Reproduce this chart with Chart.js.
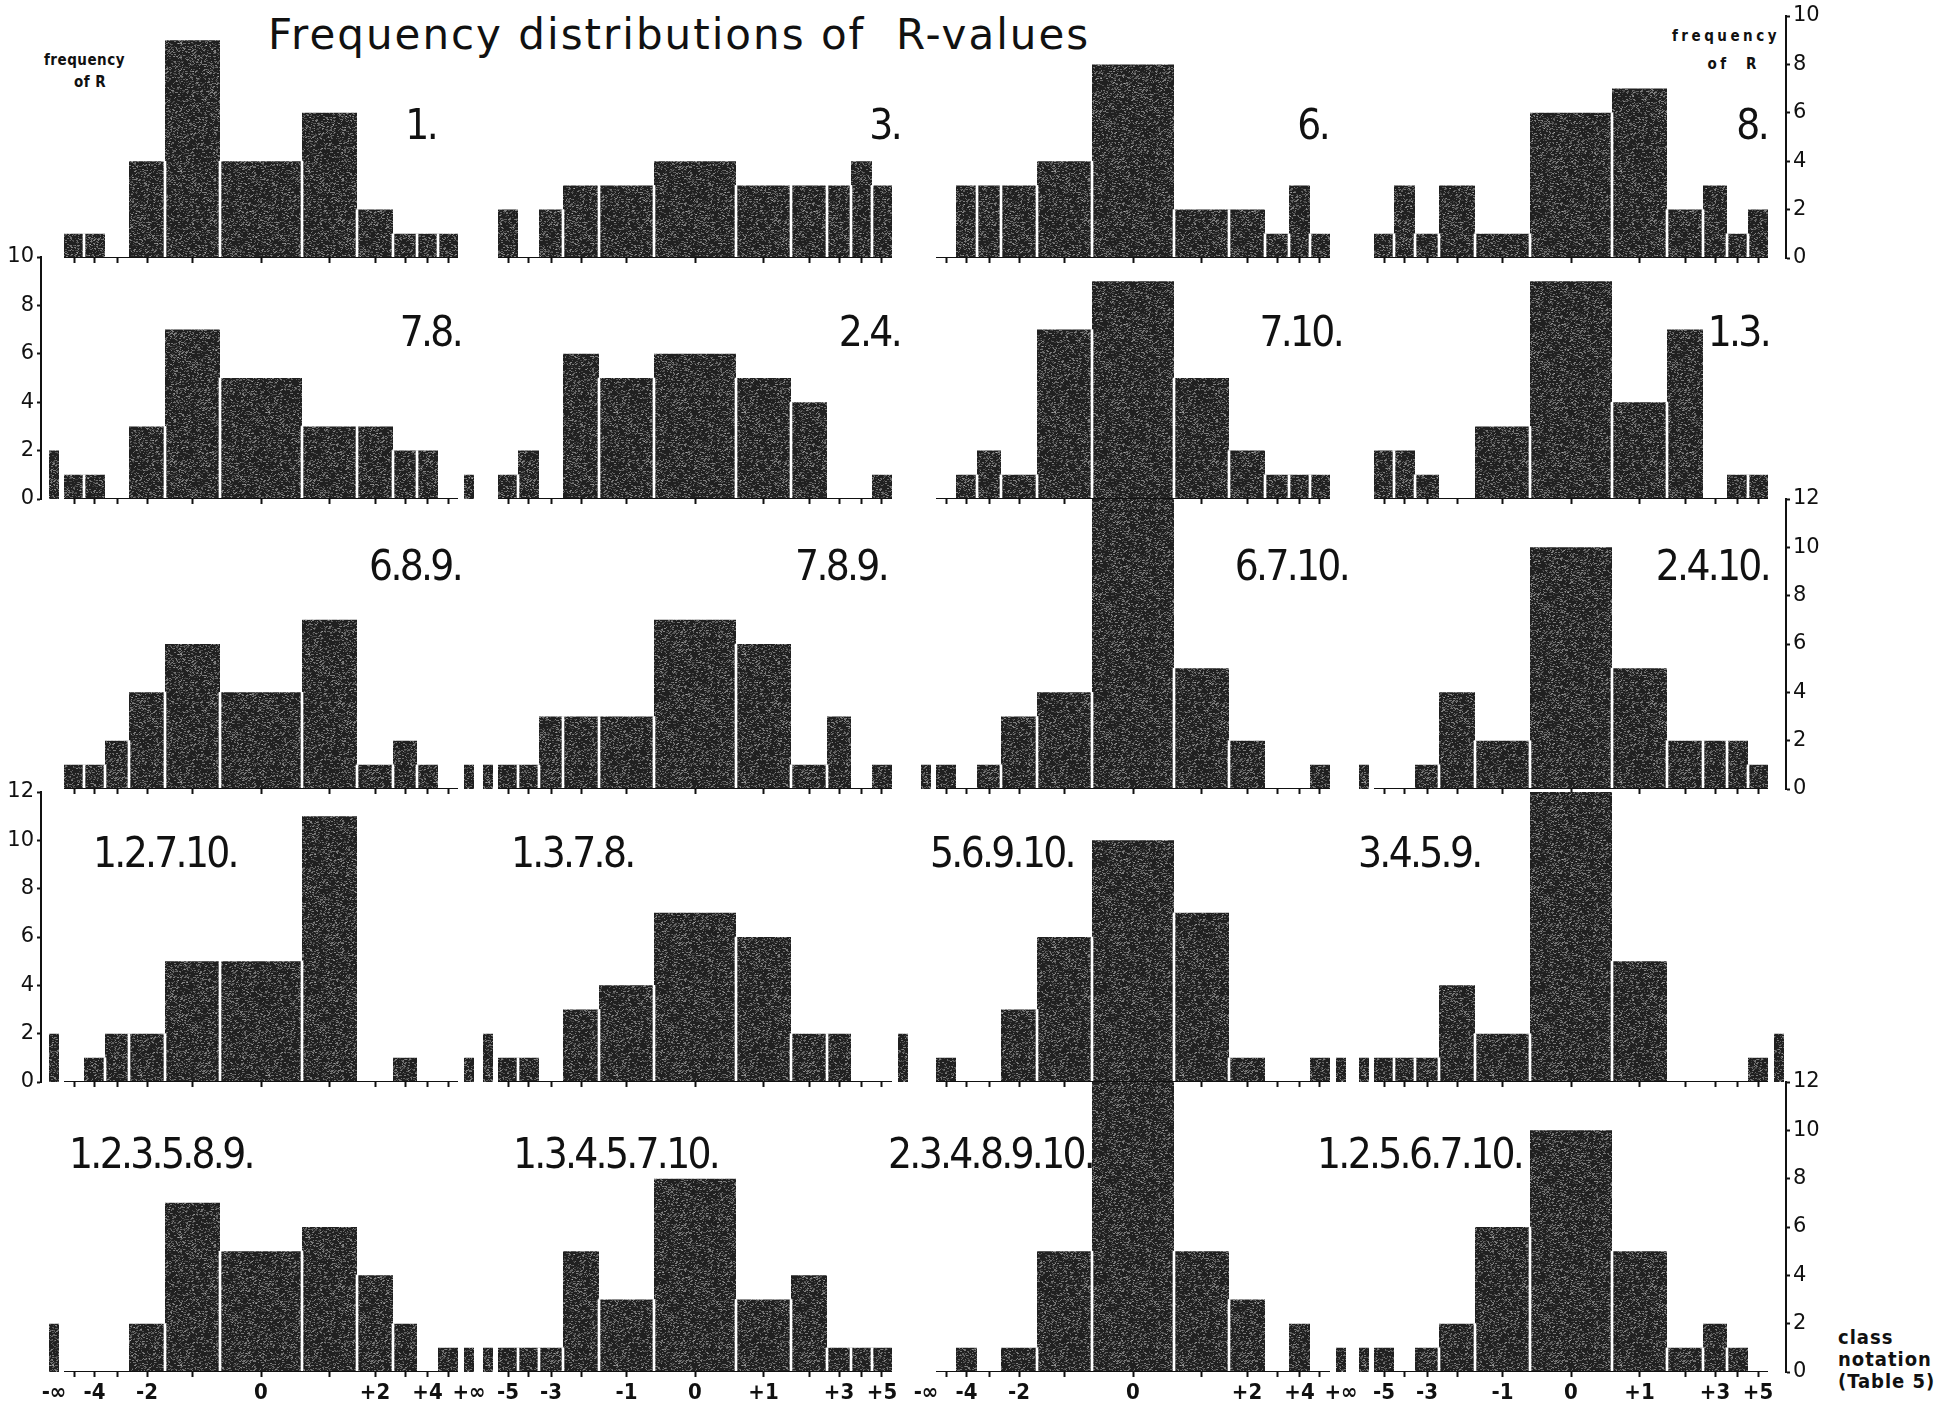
<!DOCTYPE html>
<html>
<head>
<meta charset="utf-8">
<title>Frequency distributions of R-values</title>
<script src="https://cdn.jsdelivr.net/npm/chart.js@4.4.1/dist/chart.umd.min.js"></script>
<style>
    html, body { margin: 0; padding: 0; background: #fff; }
    body { position: relative; width: 1954px; height: 1403px; overflow: hidden; color: #111;
           font-family: 'DejaVu Sans Condensed', 'DejaVu Sans', sans-serif; }
    canvas { position: absolute; }
    .txt { position: absolute; white-space: nowrap; }
    #title { left: 268px; top: 10px; font-family: 'DejaVu Sans', sans-serif; font-size: 42px; letter-spacing: 2px; }
    .panel { font-size: 42px; line-height: 42px; letter-spacing: -2.7px; }
    .small { font-weight: bold; font-size: 15px; line-height: 17px; letter-spacing: 0.5px; }
    .wide { letter-spacing: 3.5px; }
    .note { font-weight: bold; font-size: 20px; line-height: 22px; letter-spacing: 1px; }
</style>
</head>
<body>
<div id="title" class="txt">Frequency distributions of&nbsp; R-values</div>
<div class="txt small" style="left:44px; top:52px;">frequency</div>
<div class="txt small" style="left:74px; top:74px;">of R</div>
<div class="txt small wide" style="right:174px; top:28px;">frequency</div>
<div class="txt small wide" style="right:194px; top:56px;">of&nbsp;&nbsp;R</div>
<div class="txt note" style="left:1838px; top:1326px;">class<br>notation<br>(Table 5)</div>

<script>
// class notation (Table 5): -inf, -5 ... +5, +inf
const classNames = ['-∞', '-5', '-4', '-3', '-2', '-1', '0', '+1', '+2', '+3', '+4', '+5', '+∞'];
// class boundaries on the R scale (classes are not of equal width)
const classLow  = [-10.6, -9.85, -8.85, -7.8, -6.6, -4.8, -2.05, 2.05, 4.8, 6.6, 7.8, 8.85, 10.15];
const classHigh = [-10.1, -8.85, -7.8, -6.6, -4.8, -2.05, 2.05, 4.8, 6.6, 7.8, 8.85, 9.85, 10.65];

// which class labels are printed under each column
const labelsEven = ['-∞', '-4', '-2', '0', '+2', '+4', '+∞'];
const labelsOdd = ['-5', '-3', '-1', '0', '+1', '+3', '+5'];
const columnLabels = [labelsEven, labelsOdd, labelsEven, labelsOdd];

// frequency of R in each class, one array per set of variables
const freq1       = [0, 1, 1, 0, 4, 9, 4, 6, 2, 1, 1, 1, 0];
const freq3       = [0, 2, 0, 2, 3, 3, 4, 3, 3, 3, 4, 3, 0];
const freq6       = [0, 0, 3, 3, 3, 4, 8, 2, 2, 1, 3, 1, 0];
const freq8       = [0, 1, 3, 1, 3, 1, 6, 7, 2, 3, 1, 2, 0];
const freq78      = [2, 1, 1, 0, 3, 7, 5, 3, 3, 2, 2, 0, 1];
const freq24      = [0, 1, 2, 0, 6, 5, 6, 5, 4, 0, 0, 1, 0];
const freq710     = [0, 0, 1, 2, 1, 7, 9, 5, 2, 1, 1, 1, 0];
const freq13      = [0, 2, 2, 1, 0, 3, 9, 4, 7, 0, 1, 1, 0];
const freq689     = [0, 1, 1, 2, 4, 6, 4, 7, 1, 2, 1, 0, 1];
const freq789     = [1, 1, 1, 3, 3, 3, 7, 6, 1, 3, 0, 1, 0];
const freq6710    = [1, 1, 0, 1, 3, 4, 12, 5, 2, 0, 0, 1, 0];
const freq2410    = [1, 0, 0, 1, 4, 2, 10, 5, 2, 2, 2, 1, 0];
const freq12710   = [2, 0, 1, 2, 2, 5, 5, 11, 0, 1, 0, 0, 1];
const freq1378    = [2, 1, 1, 0, 3, 4, 7, 6, 2, 2, 0, 0, 2];
const freq56910   = [0, 1, 0, 0, 3, 6, 10, 7, 1, 0, 0, 1, 1];
const freq3459    = [1, 1, 1, 1, 4, 2, 12, 5, 0, 0, 0, 1, 2];
const freq123589  = [2, 0, 0, 0, 2, 7, 5, 6, 4, 2, 0, 1, 1];
const freq1345710 = [1, 1, 1, 1, 5, 3, 8, 3, 4, 1, 1, 1, 0];
const freq2348910 = [0, 0, 1, 0, 1, 5, 12, 5, 3, 0, 2, 0, 1];
const freq1256710 = [1, 1, 0, 1, 2, 6, 10, 5, 1, 2, 1, 0, 0];

const panelNames = ['1.', '3.', '6.', '8.',
                    '7.8.', '2.4.', '7.10.', '1.3.',
                    '6.8.9.', '7.8.9.', '6.7.10.', '2.4.10.',
                    '1.2.7.10.', '1.3.7.8.', '5.6.9.10.', '3.4.5.9.',
                    '1.2.3.5.8.9.', '1.3.4.5.7.10.', '2.3.4.8.9.10.', '1.2.5.6.7.10.'];
const panelFreqs = [freq1, freq3, freq6, freq8,
                    freq78, freq24, freq710, freq13,
                    freq689, freq789, freq6710, freq2410,
                    freq12710, freq1378, freq56910, freq3459,
                    freq123589, freq1345710, freq2348910, freq1256710];

const rowMax = [10, 10, 12, 12, 12];

// page layout
const U_X = 20;
const U_Y = 24.2;
const colCenter = [261, 695, 1133, 1571];
const rowBase = [258, 499, 789, 1082, 1372];
const labelAnchor = [
    [436, 900, 1328, 1767],
    [461, 900, 1342, 1769],
    [461, 887, 1348, 1769],
    [93, 511, 930, 1358],
    [69, 513, 888, 1317]
];
const labelMidY = [125, 332, 566, 853, 1154];
const PAD_TOP = 14;
const PAD_SIDE = 18;
const AXIS_W = 40;
const INK = '#111';

function makeGrain() {
    const c = document.createElement('canvas');
    c.width = 128;
    c.height = 128;
    const g = c.getContext('2d');
    g.fillStyle = '#202020';
    g.fillRect(0, 0, 128, 128);
    let s = 9127;
    const next = () => (s = (Math.imul(s, 1103515245) + 12345) >>> 0) >>> 8;
    for (let k = 0; k < 3600; k++) {
        const x = next() % 128;
        const y = next() % 128;
        const a = 0.12 + (next() % 34) / 100;
        g.fillStyle = 'rgba(255,255,255,' + a + ')';
        g.fillRect(x, y, 1 + next() % 2, 1);
    }
    return g.createPattern(c, 'repeat');
}

// outline of the histogram as a step line, gaps between detached classes go down to 0
function histPoints(values) {
    const pts = [];
    for (let i = 0; i < values.length; i++) {
        pts.push({ x: classLow[i], y: values[i] });
        if (i === values.length - 1) {
            pts.push({ x: classHigh[i], y: values[i] });
        } else if (classLow[i + 1] !== classHigh[i]) {
            pts.push({ x: classHigh[i], y: 0 });
        }
    }
    return pts;
}

// thin white rules between touching bars
function separators(values) {
    const pts = [];
    for (let i = 0; i + 1 < values.length; i++) {
        if (classHigh[i] === classLow[i + 1]) {
            const h = Math.min(values[i], values[i + 1]);
            if (h > 0) pts.push({ x: classHigh[i], y: h });
        }
    }
    return pts;
}

function baseLine() {
    return [{ x: classLow[1], y: 0 }, { x: classHigh[11], y: 0 }];
}

const grain = makeGrain();

function addLabel(row, col, text) {
    const div = document.createElement('div');
    div.className = 'txt panel';
    div.textContent = text;
    div.style.top = (labelMidY[row] - 21) + 'px';
    if (row < 3) {
        div.style.right = (1954 - labelAnchor[row][col]) + 'px';
    } else {
        div.style.left = labelAnchor[row][col] + 'px';
    }
    document.body.appendChild(div);
}

function makePanel(row, col, values) {
    const leftAxis = col === 0 && (row === 1 || row === 3);
    const rightAxis = col === 3 && row % 2 === 0;
    const xMin = col === 0 ? -11 : -10.9;
    const xMax = col === 3 ? 10.75 : 10.9;
    const areaLeft = colCenter[col] + xMin * U_X;
    const areaW = Math.round((xMax - xMin) * U_X);
    const axisH = row === 4 ? 36 : 8;

    const top = Math.round(rowBase[row] - rowMax[row] * U_Y - PAD_TOP);
    const canvas = document.createElement('canvas');
    canvas.width = areaW + 2 * PAD_SIDE + (leftAxis || rightAxis ? AXIS_W : 0);
    canvas.height = rowBase[row] - top + axisH;
    canvas.style.left = Math.round(areaLeft - PAD_SIDE - (leftAxis ? AXIS_W : 0)) + 'px';
    canvas.style.top = top + 'px';
    document.body.appendChild(canvas);

    const labelSet = columnLabels[col];

    new Chart(canvas, {
        type: 'line',
        data: {
            datasets: [
                {
                    type: 'line',
                    data: baseLine(),
                    borderColor: INK,
                    borderWidth: 2,
                    pointRadius: 0,
                    fill: false,
                    order: 0
                },
                {
                    type: 'bar',
                    data: separators(values),
                    backgroundColor: '#fff',
                    borderWidth: 0,
                    barThickness: 2,
                    grouped: false,
                    order: 1
                },
                {
                    type: 'line',
                    data: histPoints(values),
                    stepped: 'before',
                    fill: 'origin',
                    backgroundColor: grain,
                    borderColor: 'rgba(0,0,0,0)',
                    borderWidth: 0,
                    pointRadius: 0,
                    order: 2
                }
            ]
        },
        options: {
            responsive: false,
            animation: false,
            devicePixelRatio: 1,
            events: [],
            layout: { autoPadding: false, padding: { top: PAD_TOP, left: PAD_SIDE, right: PAD_SIDE, bottom: 0 } },
            plugins: { legend: { display: false }, tooltip: { enabled: false } },
            scales: {
                x: {
                    type: 'linear',
                    min: xMin,
                    max: xMax,
                    offset: false,
                    border: { display: false },
                    grid: {
                        offset: false,
                        drawOnChartArea: false,
                        drawTicks: true,
                        tickLength: 5,
                        tickWidth: 2,
                        tickColor: ctx => (ctx.index === 0 || ctx.index === classNames.length - 1) ? 'rgba(0,0,0,0)' : INK
                    },
                    afterBuildTicks: scale => {
                        scale.ticks = classNames.map((n, i) => ({ value: (classLow[i] + classHigh[i]) / 2 }));
                    },
                    afterFit: scale => {
                        scale.height = axisH;
                        scale.paddingLeft = 0;
                        scale.paddingRight = 0;
                    },
                    ticks: {
                        display: row === 4,
                        autoSkip: false,
                        maxRotation: 0,
                        padding: 3,
                        color: INK,
                        font: { family: "'DejaVu Sans Condensed', 'DejaVu Sans'", size: 22, weight: 'bold' },
                        callback: (v, i) => labelSet.includes(classNames[i]) ? classNames[i] : ''
                    }
                },
                y: {
                    display: leftAxis || rightAxis,
                    position: rightAxis ? 'right' : 'left',
                    min: 0,
                    max: rowMax[row],
                    border: { display: true, color: INK, width: 2 },
                    grid: { drawOnChartArea: false, tickLength: 4, tickWidth: 2, color: INK },
                    ticks: {
                        stepSize: 2,
                        padding: 3,
                        color: INK,
                        font: { family: "'DejaVu Sans'", size: 21 }
                    },
                    afterFit: scale => {
                        if (scale.options.display) scale.width = AXIS_W;
                        scale.paddingTop = 0;
                        scale.paddingBottom = 0;
                    }
                }
            }
        }
    });
}

document.addEventListener('DOMContentLoaded', function() {
    panelFreqs.forEach((values, k) => {
        const row = Math.floor(k / 4);
        const col = k % 4;
        makePanel(row, col, values);
        addLabel(row, col, panelNames[k]);
    });
});
</script>
</body>
</html>
